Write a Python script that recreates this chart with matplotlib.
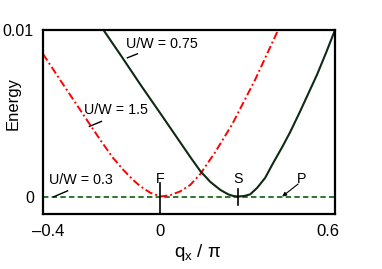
import numpy as np
import matplotlib
matplotlib.use("Agg")
import matplotlib.pyplot as plt

plt.rcParams["font.family"] = ["Liberation Sans", "DejaVu Sans"]
plt.rcParams["mathtext.fontset"] = "custom"
plt.rcParams["mathtext.rm"] = "Liberation Sans"

# ------------------------------------------------------------
# data (q_x / pi, energy)
# ------------------------------------------------------------
q_15 = [-0.42, -0.3571, -0.3036, -0.2571, -0.2143, -0.1714, -0.1321, -0.10, -0.0714, -0.0357, 0.0,
        0.0357, 0.0714, 0.1071, 0.1429, 0.1964, 0.2571, 0.3393, 0.4214]
e_15 = [0.00856, 0.00696, 0.00562, 0.00445, 0.00338, 0.00236, 0.00159, 0.00103, 0.00061, 0.00022, 0.0,
        0.00008, 0.00031, 0.0007, 0.00135, 0.00267, 0.00434, 0.00702, 0.0100]

q_075 = [-0.2036, -0.1429, -0.0714, 0.0, 0.0536, 0.1071, 0.1429, 0.1786, 0.2143, 0.2429,
         0.2607, 0.2786, 0.30, 0.3214, 0.3464, 0.375, 0.4036, 0.4357, 0.4643, 0.50,
         0.5607, 0.5929, 0.625]
e_075 = [0.0100, 0.00851, 0.00672, 0.00499, 0.00368, 0.00237, 0.00153, 0.00088, 0.0004, 0.00013,
         0.00003, 0.0, 0.00003, 0.00013, 0.00052, 0.00112, 0.00201, 0.00296, 0.00386, 0.00511,
         0.00732, 0.00863, 0.0100]

q_03 = [-0.42, 0.625]
e_03 = [0.0, 0.0]

q_F = 0.0
q_S = 0.2786

x_ticks = [-0.4, 0, 0.6]
x_ticklabels = ["\u20130.4", "0", "0.6"]
y_ticks = [0, 0.01]
y_ticklabels = ["0", "0.01"]

# ------------------------------------------------------------
# figure
# ------------------------------------------------------------
fig = plt.figure(figsize=(3.82, 2.69), dpi=100)
ax = fig.add_axes([0.1126, 0.2045, 0.7644, 0.684])

ax.plot(q_03, e_03, color="#1e6b1e", linestyle=(0, (3.0, 1.8)), linewidth=1.3)
ax.plot(q_15, e_15, color="red", linestyle=(0, (4, 1.5, 1, 1.5)), linewidth=1.4)
ax.plot(q_075, e_075, color="#0f2a14", linewidth=1.5)

# F and S markers
ax.plot([q_F, q_F], [0.0008, -0.0011], color="black", linewidth=1.2)
ax.plot([q_S, q_S], [0.00045, -0.0005], color="black", linewidth=1.2)

ax.set_xlim(-0.42, 0.625)
ax.set_ylim(-0.00105, 0.01)

ax.set_xticks(x_ticks)
ax.set_xticklabels(x_ticklabels)
ax.set_yticks(y_ticks)
ax.set_yticklabels(y_ticklabels)
ax.tick_params(axis="both", length=0)
ax.tick_params(axis="x", pad=7, labelsize=12)
ax.tick_params(axis="y", pad=6.5, labelsize=11.5)

for sp in ax.spines.values():
    sp.set_linewidth(1.6)

ax.set_xlabel("q$_\\mathrm{x}$ / \u03c0", fontsize=13.5)
ax.xaxis.set_label_coords(0.531, -0.15)
ax.set_ylabel("Energy", fontsize=12)
ax.yaxis.set_label_coords(-0.075, 0.6)

fs = 10.3
# curve labels with short leader lines
ax.text(-0.122, 0.00915, "U/W = 0.75", fontsize=fs, va="center", ha="left")
ax.plot([-0.118, -0.082], [0.00833, 0.00857], color="black", linewidth=1.0)

ax.text(-0.275, 0.00522, "U/W = 1.5", fontsize=fs, va="center", ha="left")
ax.plot([-0.254, -0.211], [0.00421, 0.00451], color="black", linewidth=1.0)

ax.text(-0.40, 0.00098, "U/W = 0.3", fontsize=fs, va="center", ha="left")
ax.plot([-0.382, -0.332], [-0.00002, 0.00034], color="black", linewidth=1.0)

ax.text(q_F, 0.00105, "F", fontsize=fs, ha="center", va="center")
ax.text(q_S, 0.00105, "S", fontsize=fs, ha="center", va="center")
ax.text(0.507, 0.00105, "P", fontsize=fs, ha="center", va="center")
ax.annotate("", xy=(0.436, 0.0), xytext=(0.493, 0.00075),
            arrowprops=dict(arrowstyle="-|>", color="black", lw=0.8,
                            mutation_scale=6, shrinkA=0, shrinkB=0))

fig.savefig("out.png", dpi=100)
